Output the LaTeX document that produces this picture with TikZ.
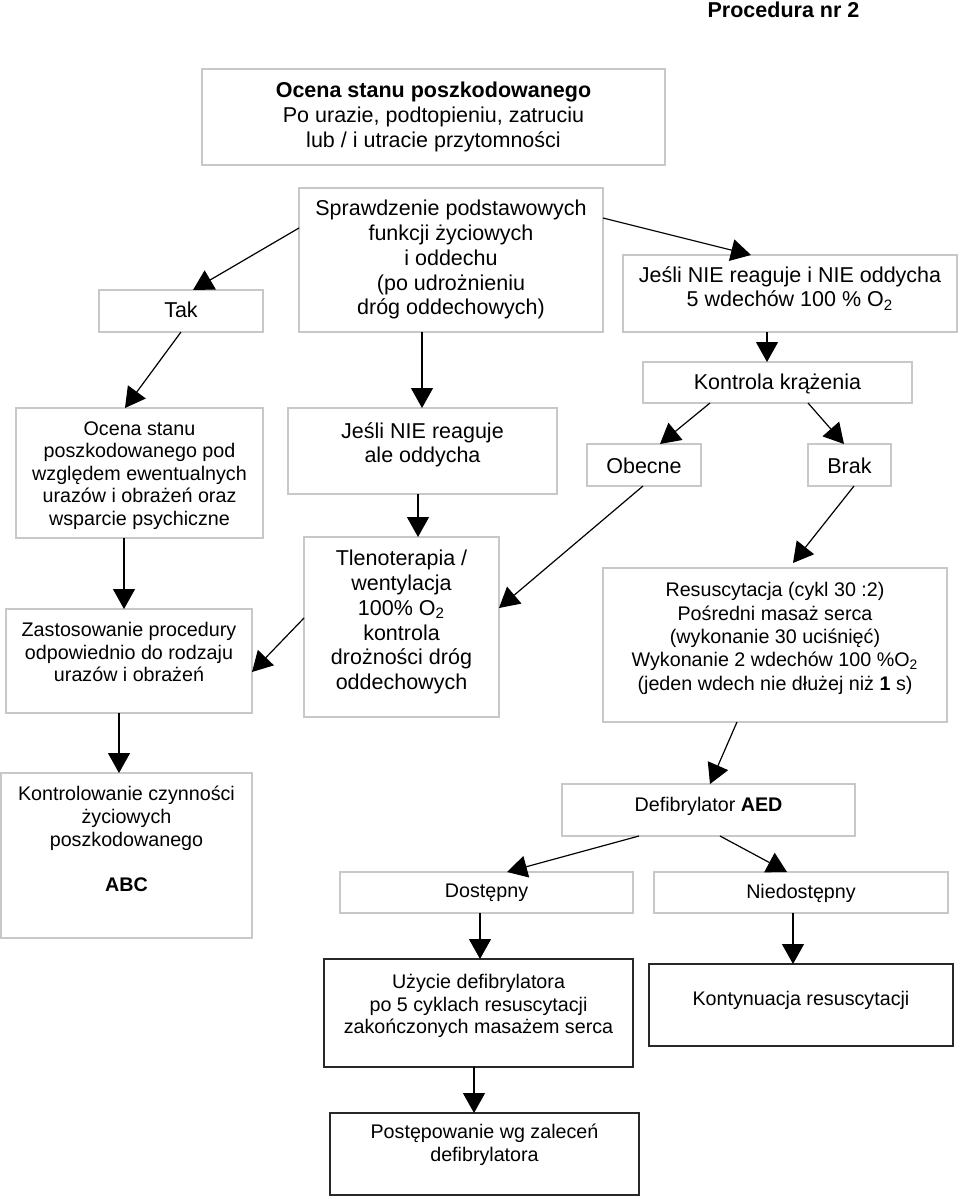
\documentclass[tikz,border=0pt]{standalone}
\usepackage{fontspec}
\setmainfont{Liberation Sans}
\usetikzlibrary{arrows.meta,calc}
\definecolor{lborder}{RGB}{200,200,200}
\definecolor{dborder}{RGB}{40,40,40}
\newcommand\mkbox[6]{\node[#1,anchor=north west,minimum width={(#5-#3)*0.5pt},minimum height={(#6-#4)*0.5pt}] (#2) at (#3,#4) {};}
\begin{document}
\begin{tikzpicture}[x=0.5pt,y=-0.5pt,
  lbox/.style={draw=lborder,line width=0.6pt,inner sep=0pt,outer sep=0pt},
  dbox/.style={draw=dborder,line width=0.8pt,inner sep=0pt,outer sep=0pt},
  big/.style={inner sep=0pt,align=center,font=\fontsize{10.75pt}{12.35pt}\selectfont},
  small/.style={inner sep=0pt,align=center,font=\fontsize{9.85pt}{11.3pt}\selectfont},
  arr/.style={line width=0.6pt,-{Triangle[length=10pt,width=11pt]}}]
\useasboundingbox (0,0) rectangle (960,1199);

% title
\node[big,anchor=north,font=\fontsize{10.75pt}{12.35pt}\selectfont\bfseries] (title) at (783.5,2) {Procedura nr 2};

% boxes
\mkbox{lbox}{b1}{202}{69}{665}{165}
\mkbox{lbox}{sp}{299}{188}{603}{332}
\mkbox{lbox}{tak}{99}{290}{263}{332}
\mkbox{lbox}{jn}{623}{255}{957}{332}
\mkbox{lbox}{kk}{643}{362}{912}{403}
\mkbox{lbox}{ocp}{16}{408}{263}{538}
\mkbox{lbox}{ja}{288}{408}{557}{494}
\mkbox{lbox}{ob}{587}{444}{701}{486}
\mkbox{lbox}{br}{808}{444}{891}{486}
\mkbox{lbox}{tl}{304}{537}{499}{717}
\mkbox{lbox}{zs}{6}{609}{252}{713}
\mkbox{lbox}{rs}{603}{568}{947}{722}
\mkbox{lbox}{kc}{1}{773}{252}{938}
\mkbox{lbox}{df}{562}{784}{855}{836}
\mkbox{lbox}{ds}{340}{872}{633}{913}
\mkbox{lbox}{nd}{654}{872}{948}{913}
\mkbox{dbox}{uz}{324}{959}{633}{1067}
\mkbox{dbox}{kt}{649}{964}{953}{1046}
\mkbox{dbox}{pw}{330}{1113}{639}{1195}

% texts
\node[big,anchor=north] (b1t) at (433.5,82) {\textbf{Ocena stanu poszkodowanego}\\Po urazie, podtopieniu, zatruciu\\lub / i utracie przytomności};
\node[big,anchor=north] (spt) at (451,200) {Sprawdzenie podstawowych\\funkcji życiowych\\i oddechu\\(po udrożnieniu\\dróg oddechowych)};
\node[big,anchor=north] (takt) at (181,302) {Tak};
\node[big,anchor=north] (jnt) at (790,266) {Jeśli NIE reaguje i NIE oddycha\\5 wdechów 100 \% O\textsubscript{2}};
\node[big,anchor=north] (kkt) at (777.5,374) {Kontrola krążenia};
\node[small,anchor=north] (ocpt) at (139.5,421) {Ocena stanu\\poszkodowanego pod\\względem ewentualnych\\urazów i obrażeń oraz\\wsparcie psychiczne};
\node[big,anchor=north] (jat) at (422.5,422) {Jeśli NIE reaguje\\ale oddycha};
\node[big,anchor=north] (obt) at (644,458) {Obecne};
\node[big,anchor=north] (brt) at (849.5,458) {Brak};
\node[big,anchor=north] (tlt) at (401.5,550) {Tlenoterapia /\\wentylacja\\100\% O\textsubscript{2}\\kontrola\\drożności dróg\\oddechowych};
\node[small,anchor=north] (zst) at (129,622) {Zastosowanie procedury\\odpowiednio do rodzaju\\urazów i obrażeń};
\node[small,anchor=north,font=\fontsize{9.85pt}{11.7pt}\selectfont] (rst) at (775,582) {Resuscytacja (cykl 30 :2)\\Pośredni masaż serca\\(wykonanie 30 uciśnięć)\\Wykonanie 2 wdechów 100 \%O\textsubscript{2}\\(jeden wdech nie dłużej niż \textbf{1} s)};
\node[small,anchor=north] (kct) at (126.5,786) {Kontrolowanie czynności\\życiowych\\poszkodowanego\\[11.5pt]\textbf{ABC}};
\node[small,anchor=north] (dft) at (708.5,797) {Defibrylator \textbf{AED}};
\node[small,anchor=north] (dst) at (486.5,884) {Dostępny};
\node[small,anchor=north] (ndt) at (801,884) {Niedostępny};
\node[small,anchor=north] (uzt) at (478.5,974) {Użycie defibrylatora\\po 5 cyklach resuscytacji\\zakończonych masażem serca};
\node[small,anchor=north] (ktt) at (801,991) {Kontynuacja resuscytacji};
\node[small,anchor=north] (pwt) at (484.5,1124) {Postępowanie wg zaleceń\\defibrylatora};

% free end points
\coordinate (rsin) at ($(rs.north west)+(190,-5)$);

% connectors
\draw[arr] ($(sp.north west)+(0,40)$) -- ($(tak.north west)+(94,0)$);
\draw[arr] ($(sp.north east)+(0,30)$) -- ($(jn.north west)+(128,0)$);
\draw[arr] ($(tak.south west)+(82,0)$) -- ($(ocp.north west)+(109,0)$);
\draw[arr] ($(sp.south west)+(123,0)$) -- ($(ja.north west)+(134,0)$);
\draw[arr] ($(jn.south west)+(144,0)$) -- ($(kk.north west)+(124,0)$);
\draw[arr] ($(kk.south west)+(67,0)$) -- ($(ob.north west)+(73,0)$);
\draw[arr] ($(kk.south west)+(165,0)$) -- ($(br.north west)+(36,0)$);
\draw[arr] ($(ob.south west)+(56,0)$) -- ($(tl.north east)+(0,71)$);
\draw[arr] ($(br.south west)+(46,0)$) -- (rsin);
\draw[arr] ($(ja.south west)+(130,0)$) -- ($(tl.north west)+(114,0)$);
\draw[arr] ($(ocp.south west)+(108,0)$) -- ($(zs.north west)+(118,0)$);
\draw[arr] ($(tl.north west)+(0,81)$) -- ($(zs.north east)+(0,63)$);
\draw[arr] ($(zs.south west)+(113,0)$) -- ($(kc.north west)+(118,0)$);
\draw[arr] ($(rs.south west)+(134,0)$) -- ($(df.north west)+(148,0)$);
\draw[arr] ($(df.south west)+(77,0)$) -- ($(ds.north west)+(167,0)$);
\draw[arr] ($(df.south west)+(158,0)$) -- ($(nd.north west)+(133,0)$);
\draw[arr] ($(ds.south west)+(140,0)$) -- ($(uz.north west)+(156,0)$);
\draw[arr] ($(nd.south west)+(139,0)$) -- ($(kt.north west)+(144,0)$);
\draw[arr] ($(uz.south west)+(150,0)$) -- ($(pw.north west)+(144,0)$);
\end{tikzpicture}
\end{document}
